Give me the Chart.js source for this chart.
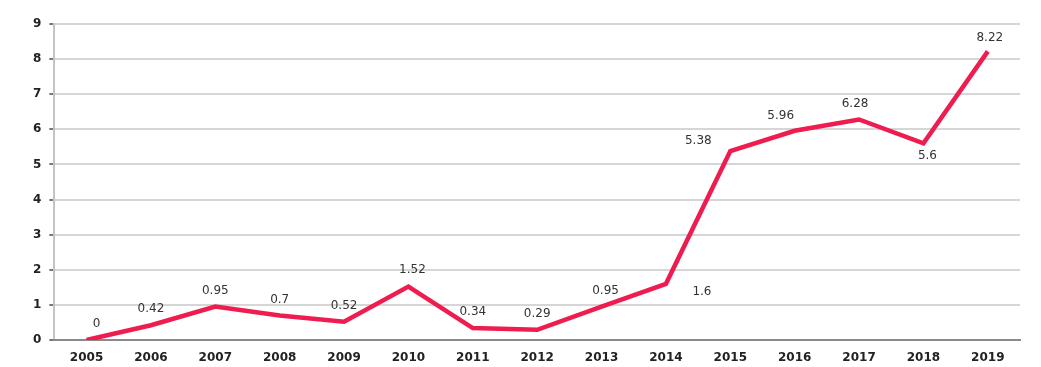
<!DOCTYPE html>
<html>
<head>
<meta charset="utf-8">
<script src="https://cdn.jsdelivr.net/npm/chart.js@4/dist/chart.umd.min.js"></script>
<style>
    html, body { margin: 0; padding: 0; background: #fff; }
    #wrap { width: 1041px; height: 367px; }
</style>
</head>
<body>
<div id="wrap"><canvas id="trend-chart"></canvas></div>
<script>
// --- ข้อมูลกราฟ ---
const YEARS = ['2005', '2006', '2007', '2008', '2009', '2010', '2011', '2012',
    '2013', '2014', '2015', '2016', '2017', '2018', '2019'];
const VALUES = [0, 0.42, 0.95, 0.7, 0.52, 1.52, 0.34, 0.29, 0.95, 1.6, 5.38, 5.96, 6.28, 5.6, 8.22];
const Y_TICKS = [0, 1, 2, 3, 4, 5, 6, 7, 8, 9];

// ตำแหน่งป้ายตัวเลขของแต่ละจุด (dx, dy จากจุด)
const LABEL_OFFSET = [
    [10, -16], [0, -16], [0, -16], [0, -16], [0, -16], [4, -17], [0, -16], [0, -16],
    [4, -16], [36, 8], [-32, -10], [-14, -15], [-4, -16], [4, 12], [2, -14]
];

// ปลั๊กอินเล็ก ๆ สำหรับเขียนค่าบนจุด
const valueLabels = {
    id: 'valueLabels',
    afterDatasetsDraw(chart) {
        const ctx = chart.ctx;
        const meta = chart.getDatasetMeta(0);
        ctx.save();
        ctx.font = '12px "DejaVu Sans", sans-serif';
        ctx.fillStyle = '#333';
        ctx.textAlign = 'center';
        ctx.textBaseline = 'middle';
        meta.data.forEach((pt, i) => {
            const off = LABEL_OFFSET[i] || [0, -16];
            ctx.fillText(String(VALUES[i]), pt.x + off[0], pt.y + off[1]);
        });
        ctx.restore();
    }
};

const ctx = document.getElementById('trend-chart').getContext('2d');
const myChart = new Chart(ctx, {
    type: 'line',
    data: {
        labels: YEARS,
        datasets: [{
            data: VALUES,
            borderColor: '#ee1c4f',
            borderWidth: 4.5,
            pointRadius: 0,
            tension: 0,
            fill: false
        }]
    },
    options: {
        responsive: true,
        maintainAspectRatio: false,
        animation: false,
        layout: { padding: { top: 24, right: 21, left: 25, bottom: -1 } },
        scales: {
            y: {
                min: 0,
                max: 9,
                afterBuildTicks: axis => { axis.ticks = Y_TICKS.map(v => ({ value: v })); },
                ticks: {
                    color: '#222',
                    font: { size: 12, family: '"DejaVu Sans", sans-serif', weight: 'bold' },
                    padding: 8
                },
                grid: {
                    color: '#d6d6d6',
                    lineWidth: 2,
                    tickLength: 5,
                    tickColor: '#777'
                },
                border: { color: '#c4c4c4', width: 2 }
            },
            x: {
                offset: true,
                ticks: {
                    color: '#222',
                    font: { size: 12, family: '"DejaVu Sans", sans-serif', weight: 'bold', lineHeight: 1 },
                    maxRotation: 0,
                    padding: 4
                },
                grid: { display: false },
                border: { color: '#8a8a8a', width: 2 }
            }
        },
        plugins: {
            legend: { display: false },
            tooltip: { enabled: false }
        }
    },
    plugins: [valueLabels]
});
</script>
</body>
</html>
